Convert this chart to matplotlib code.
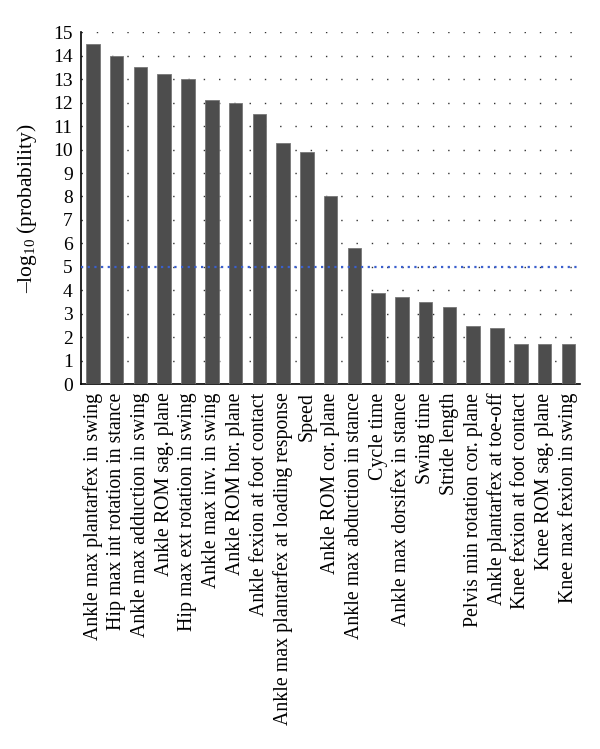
import matplotlib.pyplot as plt

# Подписи параметров походки
labels = [
    "Ankle max plantarfex in swing",
    "Hip max int rotation in stance",
    "Ankle max adduction in swing",
    "Ankle ROM sag. plane",
    "Hip max ext rotation in swing",
    "Ankle max inv. in swing",
    "Ankle ROM hor. plane",
    "Ankle fexion at foot contact",
    "Ankle max plantarfex at loading response",
    "Speed",
    "Ankle ROM cor. plane",
    "Ankle max abduction in stance",
    "Cycle time",
    "Ankle max dorsifex in stance",
    "Swing time",
    "Stride length",
    "Pelvis min rotation cor. plane",
    "Ankle plantarfex at toe-off",
    "Knee fexion at foot contact",
    "Knee ROM sag. plane",
    "Knee max fexion in swing",
]

# -log10(probability)
values = [14.5, 14.0, 13.5, 13.2, 13.0, 12.1, 12.0, 11.5, 10.3, 9.9, 8.0,
          5.8, 3.9, 3.7, 3.5, 3.3, 2.5, 2.4, 1.7, 1.7, 1.7]

threshold = 5
y_ticks = list(range(0, 16))

plt.rcParams['font.family'] = ['Liberation Serif', 'DejaVu Serif']
plt.rcParams['mathtext.fontset'] = 'custom'
plt.rcParams['mathtext.rm'] = 'Liberation Serif'

fig = plt.figure(figsize=(6, 7.49), dpi=100)
ax = fig.add_axes([0.135, 0.487, 0.832, 0.470])

x = range(len(values))
ax.bar(x, values, width=0.57, color='#4d4d4d', edgecolor='#777777', linewidth=0.6, zorder=3)

# Пороговая линия
ax.axhline(threshold, color='#3a5fcd', linestyle=(0, (1, 2)), linewidth=1.6, zorder=4)

ax.set_xlim(-0.5, len(values) - 0.5)
ax.set_ylim(0, 15)
ax.set_yticks(y_ticks)
ax.tick_params(axis='y', length=0, labelsize=14, pad=6)
ax.tick_params(axis='x', length=0, labelsize=14.3, pad=6)
ax.set_xticks(list(x))
ax.set_xticklabels(labels, rotation=90)

ax.grid(axis='y', color='#333333', linestyle=(0, (1, 10)), linewidth=1.0, zorder=0)
ax.set_axisbelow(True)

for side in ['top', 'right']:
    ax.spines[side].set_visible(False)
ax.spines['left'].set_linewidth(1.2)
ax.spines['bottom'].set_linewidth(1.2)

ax.set_ylabel('–log$_{10}$ (probability)', fontsize=15.5, labelpad=10)

fig.savefig('out.png', dpi=100)
